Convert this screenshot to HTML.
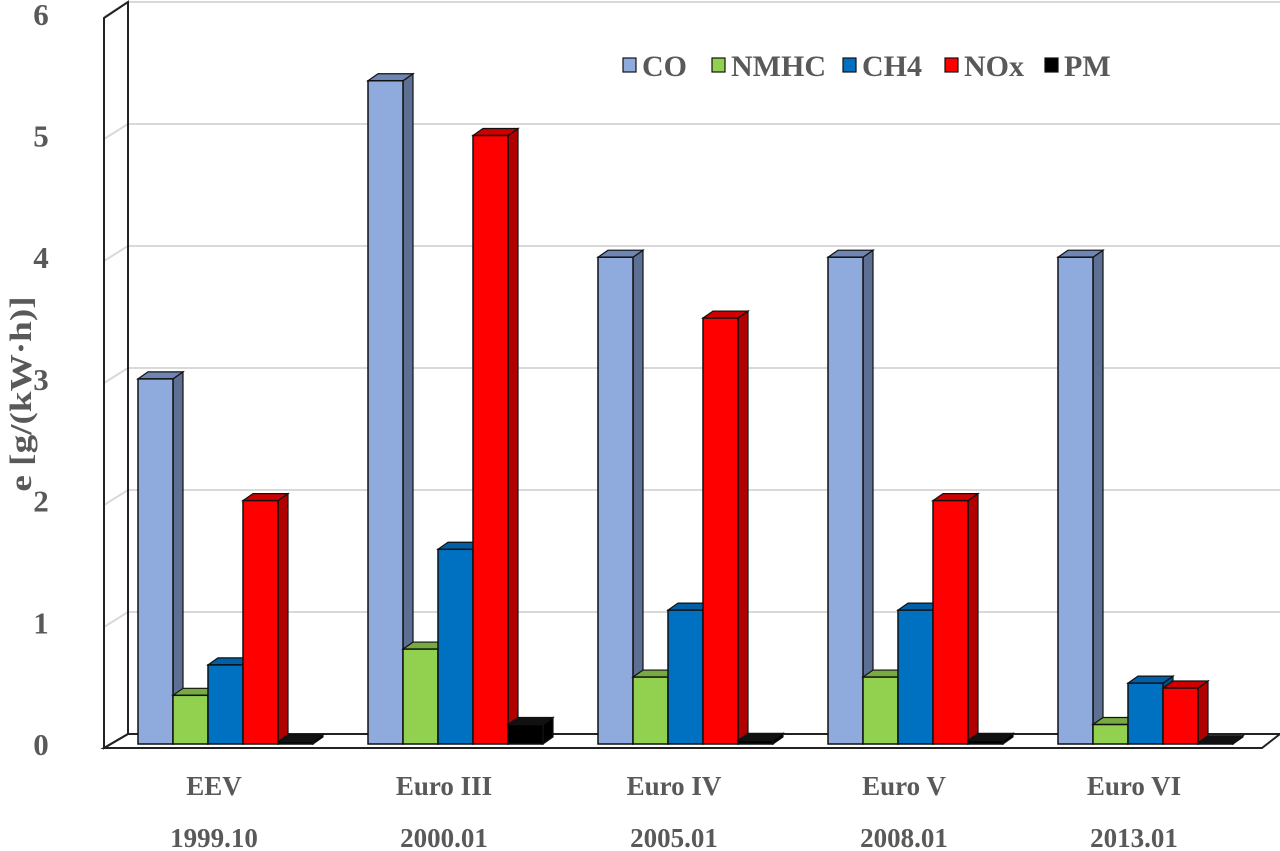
<!DOCTYPE html>
<html><head><meta charset="utf-8"><style>
body{margin:0;background:#fff}
svg{display:block}
text{font-family:"Liberation Serif",serif;font-weight:bold;fill:#595959}
</style></head><body>
<svg id="chart" width="1280" height="851" viewBox="0 0 1280 851" xmlns="http://www.w3.org/2000/svg">
<g id="walls"></g>
<g id="bars"></g>
<g id="axes"></g>
<g id="legend"></g>
<text transform="translate(31,394) rotate(-90) scale(1.2,1)" text-anchor="middle" font-size="31">e [g/(kW·h)]</text>
</svg>
<script>
const categories = ["EEV","Euro III","Euro IV","Euro V","Euro VI"];
const dates = ["1999.10","2000.01","2005.01","2008.01","2013.01"];
const seriesNames = ["CO","NMHC","CH4","NOx","PM"];
const CO = [3, 5.45, 4, 4, 4];
const NMHC = [0.4, 0.78, 0.55, 0.55, 0.16];
const CH4 = [0.65, 1.6, 1.1, 1.1, 0.5];
const NOx = [2, 5, 3.5, 2, 0.46];
const PM = [0.02, 0.16, 0.03, 0.03, 0.01];
const yTicks = [0,1,2,3,4,5,6];

const series = [CO, NMHC, CH4, NOx, PM];
const fronts = ["#8faadc","#92d050","#0070c0","#ff0000","#000000"];
const sides = ["#5d6f92","#5f8a33","#004f88","#b00000","#000000"];
const tops = ["#6f86b3","#77ab41","#005fa6","#d00000","#111111"];
const NS="http://www.w3.org/2000/svg";
function el(tag, attrs, parent){const e=document.createElementNS(NS,tag);for(const k in attrs)e.setAttribute(k,attrs[k]);parent.appendChild(e);return e;}
const yFront = v => 744 - v*121.7;
const yBack = v => 734 - v*122;
const groupX = i => 138 + i*230;
const BW = 35, DX = 10, DY = 7;

const walls=document.getElementById('walls');
yTicks.forEach(t=>{
  if(t===0) return;
  const g=el('line',{x1:128,x2:1280,y1:yBack(t),y2:yBack(t),stroke:'#d9d9d9','stroke-width':2},walls);
  
  
  const s=el('line',{x1:104,x2:128,y1:yBack(t)+15,y2:yBack(t),stroke:'#d9d9d9','stroke-width':2},walls);
  
  
});
const lw=el('polygon',{points:'104,18 128,2 128,734 104,748',fill:'none',stroke:'#222','stroke-width':2},walls);


const fl=el('polygon',{points:'104,748 128,734 1280,734 1262,748',fill:'none',stroke:'#222','stroke-width':2},walls);



const bars=document.getElementById('bars');
categories.forEach((c,i)=>{
  series.forEach((s,j)=>{
    const x=groupX(i)+j*BW, y=yFront(s[i]), b=744;
    const g=el('g',{},bars);
    
    
    el('polygon',{points:`${x+BW},${y} ${x+BW+DX},${y-DY} ${x+BW+DX},${b-DY} ${x+BW},${b}`,fill:sides[j],stroke:'#111','stroke-width':1.2},g);
    el('polygon',{points:`${x},${y} ${x+DX},${y-DY} ${x+BW+DX},${y-DY} ${x+BW},${y}`,fill:tops[j],stroke:'#111','stroke-width':1.2},g);
    el('rect',{x:x,y:y,width:BW,height:b-y,fill:fronts[j],stroke:'#111','stroke-width':1.5},g);
  });
});

const axes=document.getElementById('axes');
yTicks.forEach(t=>{
  const tx=el('text',{x:41,y:yFront(t)+11,'text-anchor':'middle','font-size':31},axes);
  tx.textContent=t;
  
  
});
categories.forEach((c,i)=>{
  const cx=groupX(i)+76;
  const t1=el('text',{x:cx,y:795,'text-anchor':'middle','font-size':27},axes);
  t1.textContent=c;
  
  
  const t2=el('text',{x:cx,y:847,'text-anchor':'middle','font-size':27},axes);
  t2.textContent=dates[i];
  
  
});

const legend=document.getElementById('legend');
const lx=[623,712,843,945,1045];
seriesNames.forEach((n,j)=>{
  const g=el('g',{},legend);
  
  
  el('rect',{x:lx[j],y:58,width:13,height:14,fill:fronts[j],stroke:'#111','stroke-width':1.2},g);
  const t=el('text',{x:lx[j]+19,y:76,'font-size':30},g);
  t.textContent=n;
});
</script>
</body></html>
